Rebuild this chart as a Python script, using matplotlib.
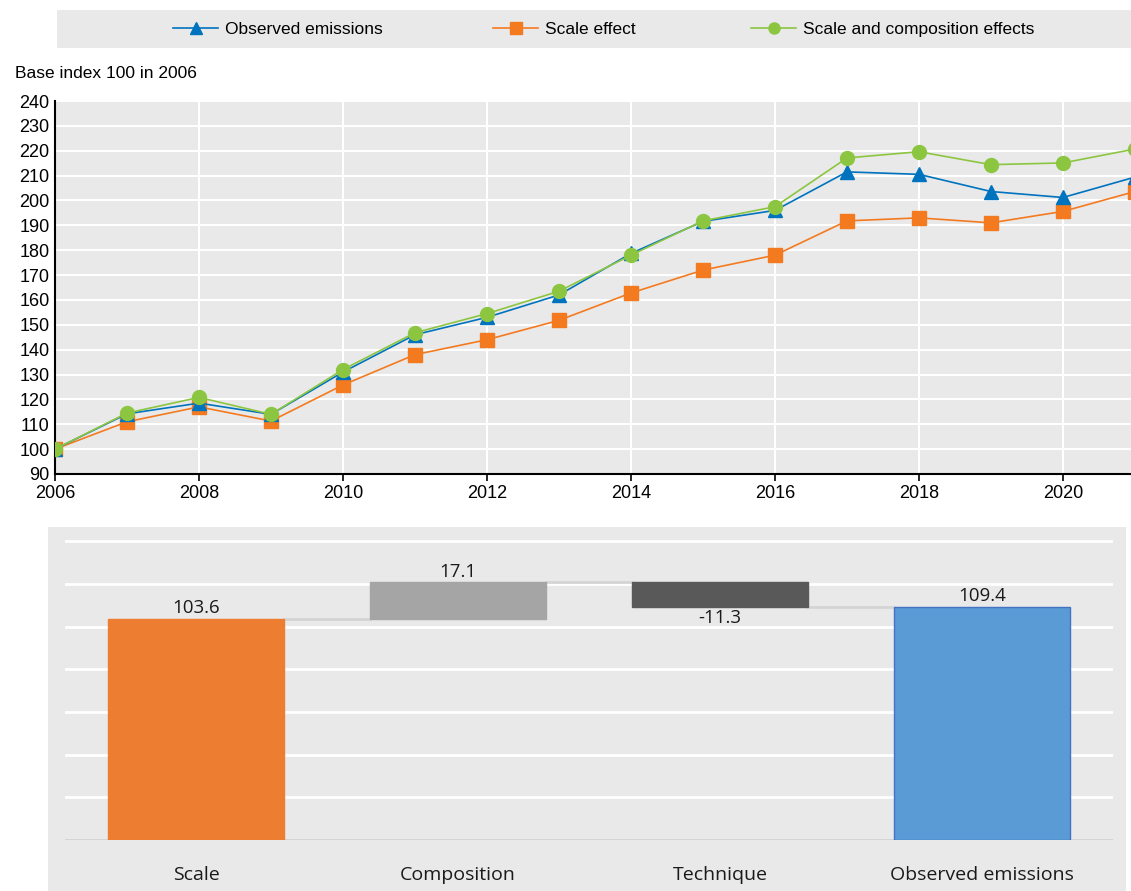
import matplotlib.pyplot as plt
from matplotlib.patches import Rectangle

# data
years = list(range(2006, 2022))
observed = [100, 114.2, 118.5, 114, 131, 146, 153, 162, 178.7, 191.6, 196, 211.5, 210.5, 203.6, 201.2, 209.4]
scale = [100, 111, 117, 111.3, 125.8, 138, 144, 151.8, 162.8, 172, 178, 191.8, 193, 191, 195.6, 203.6]
scale_comp = [100, 114.5, 120.8, 114, 132, 146.8, 154.5, 163.5, 178, 191.8, 197.5, 217.1, 219.6, 214.4, 215.1, 220.7]

wf_cats = ['Scale', 'Composition', 'Technique', 'Observed emissions']
wf_vals = [103.6, 17.1, -11.3, 109.4]
wf_labels = ['103.6', '17.1', '-11.3', '109.4']

W, H = 1131, 891
plt.rcParams['font.family'] = ['Liberation Sans Narrow', 'Liberation Sans', 'DejaVu Sans']

fig = plt.figure(figsize=(W / 100, H / 100), dpi=100)


def fx(px):
    return px / W


def fy(py):
    return 1 - py / H


grey = '#e9e9e9'

# ---------- top chart ----------
fig.patches.append(Rectangle((fx(57), fy(48)), fx(1131 - 57), (48 - 10) / H,
                             transform=fig.transFigure, facecolor=grey, edgecolor='none', zorder=-1))

ax = fig.add_axes([fx(55), fy(474), fx(1135 - 55), (474 - 101) / H])
ax.set_facecolor(grey)
l1, = ax.plot(years, observed, color='#0073bf', lw=1.2, marker='^', ms=10, zorder=3)
l2, = ax.plot(years, scale, color='#f47a20', lw=1.2, marker='s', ms=10, zorder=2)
l3, = ax.plot(years, scale_comp, color='#8cc641', lw=1.2, marker='o', ms=10, zorder=4)
ax.set_xlim(2006, 2021)
ax.set_ylim(90, 240)
ax.set_yticks(range(90, 241, 10))
ax.set_xticks(range(2006, 2021, 2))
ax.grid(True, color='white', lw=1.5)
ax.set_axisbelow(True)
for s in ['top', 'right']:
    ax.spines[s].set_visible(False)
ax.spines['left'].set_linewidth(1.5)
ax.spines['bottom'].set_linewidth(1.5)
ax.tick_params(axis='x', length=5, width=1.2, labelsize=13, pad=3)
ax.tick_params(axis='y', length=0, labelsize=13, pad=4)
fig.text(fx(15), fy(74), 'Base index 100 in 2006', fontsize=12.5, va='center', ha='left')

# legend entries placed one by one like the original
for h, lab, xpx in [(l1, 'Observed emissions', 173), (l2, 'Scale effect', 493), (l3, 'Scale and composition effects', 751)]:
    fig.legend([h], [lab], loc='center left', bbox_to_anchor=(fx(xpx), fy(29)),
               frameon=False, fontsize=12.5, handlelength=2.6, handletextpad=0.4,
               borderpad=0, borderaxespad=0, markerscale=0.8)

# ---------- bottom waterfall ----------
fig.patches.append(Rectangle((fx(48), 0), fx(1126 - 48), (891 - 527) / H,
                             transform=fig.transFigure, facecolor=grey, edgecolor='none', zorder=-1))

bx = fig.add_axes([fx(65), fy(840), fx(1113 - 65), (840 - 527) / H])
bx.patch.set_alpha(0)
bx.set_xlim(-0.5, 3.5)
bx.set_ylim(0, 146.7)

start = [0, wf_vals[0], wf_vals[0] + wf_vals[1], 0]
ends = [wf_vals[0], wf_vals[0] + wf_vals[1], wf_vals[0] + wf_vals[1] + wf_vals[2], wf_vals[3]]
colors = ['#ed7d31', '#a5a5a5', '#595959', '#5b9bd5']
edges = ['#ed7d31', '#a5a5a5', '#595959', '#4472c4']
bw = 0.672
for i in range(4):
    lo, hi = min(start[i], ends[i]), max(start[i], ends[i])
    bx.bar(i, hi - lo, bottom=lo, width=bw, color=colors[i], edgecolor=edges[i], lw=1, zorder=3)
    if wf_vals[i] < 0:
        bx.text(i, lo - 1.2, wf_labels[i], ha='center', va='top', fontsize=13.5, family='Open Sans', color='#1a1a1a')
    else:
        bx.text(i, hi + 0.8, wf_labels[i], ha='center', va='bottom', fontsize=13.5, family='Open Sans', color='#1a1a1a')

# connectors between bars
for i in range(3):
    bx.plot([i + bw / 2, i + 1 - bw / 2], [ends[i], ends[i]], color='#d4d4d4', lw=2, zorder=2)

bx.set_yticks(range(0, 141, 20))
bx.yaxis.grid(True, color='white', lw=2)
bx.set_axisbelow(True)
bx.axhline(0, color='#d0d0d0', lw=2, zorder=2)
for s in bx.spines.values():
    s.set_visible(False)
bx.tick_params(axis='y', left=False, labelleft=False)
bx.set_xticks(range(4))
bx.set_xticklabels(wf_cats, family='Open Sans', fontsize=14, color='#1a1a1a')
bx.tick_params(axis='x', length=0, pad=19)

fig.savefig('out.png', dpi=100)
